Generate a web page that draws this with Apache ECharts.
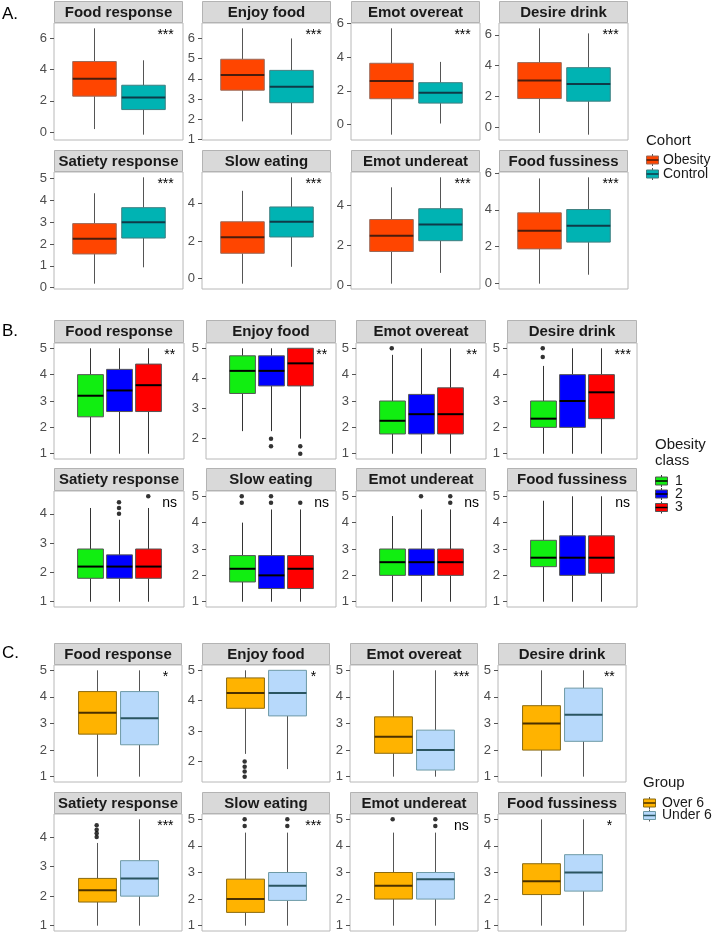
<!DOCTYPE html>
<html><head><meta charset="utf-8">
<script src="https://cdn.jsdelivr.net/npm/echarts@6/dist/echarts.min.js"></script>
<style>html,body{margin:0;padding:0;background:#fff}#c{width:713px;height:933px}</style>
</head><body><div id="c"></div>
<script>
// ---------- DATA ----------
const panelTitles = ['Food response', 'Enjoy food', 'Emot overeat', 'Desire drink',
  'Satiety response', 'Slow eating', 'Emot undereat', 'Food fussiness'];

// Section A: Cohort. Each entry [lower whisker, Q1, median, Q3, upper whisker]
const cohortNames = ['Obesity', 'Control'];
const cohortObesity = [
  [0.19, 2.3, 3.42, 4.52, 6.65], [1.9, 3.44, 4.19, 4.97, 6.5],
  [-0.6, 1.53, 2.58, 3.63, 5.7], [-0.39, 1.85, 3.03, 4.19, 6.42],
  [0.18, 1.54, 2.24, 2.93, 4.32], [-0.27, 1.35, 2.2, 3.03, 4.68],
  [0.08, 1.69, 2.48, 3.29, 4.9], [-0.03, 1.87, 2.86, 3.84, 5.72]];
const cohortControl = [
  [-0.17, 1.44, 2.21, 3.0, 4.6], [1.24, 2.82, 3.61, 4.42, 6.0],
  [0.06, 1.27, 1.89, 2.48, 3.71], [-0.5, 1.68, 2.79, 3.86, 6.09],
  [0.93, 2.27, 2.99, 3.66, 5.05], [0.63, 2.22, 3.03, 3.82, 5.4],
  [0.62, 2.23, 3.04, 3.83, 5.4], [0.46, 2.24, 3.14, 4.02, 5.78]];
const cohortObesityOut = [[], [], [], [], [], [], [], []];
const cohortControlOut = [[], [], [], [], [], [], [], []];
const cohortSig = ['***', '***', '***', '***', '***', '***', '***', '***'];
const cohortTicks = [[0, 2, 4, 6], [1, 2, 3, 4, 5, 6], [0, 2, 4, 6], [0, 2, 4, 6],
  [0, 1, 2, 3, 4, 5], [0, 2, 4], [0, 2, 4], [0, 2, 4, 6]];

// Section B: Obesity class
const classNames = ['1', '2', '3'];
const class1 = [
  [1, 2.4, 3.2, 4.0, 5], [2.25, 3.5, 4.25, 4.75, 5],
  [1, 1.75, 2.25, 3.0, 4.75], [1, 2.0, 2.33, 3.0, 4.33],
  [1, 1.8, 2.2, 2.8, 4.2], [1, 1.75, 2.25, 2.75, 4.0],
  [1, 2.0, 2.5, 3.0, 4.25], [1, 2.33, 2.67, 3.33, 4.83]];
const class2 = [
  [1, 2.6, 3.4, 4.2, 5], [2.25, 3.75, 4.25, 4.75, 5],
  [1, 1.75, 2.5, 3.25, 5], [1, 2.0, 3.0, 4.0, 5],
  [1, 1.8, 2.2, 2.6, 3.8], [1, 1.5, 2.0, 2.75, 4.5],
  [1, 2.0, 2.5, 3.0, 4.5], [1, 2.0, 2.67, 3.5, 5]];
const class3 = [
  [1, 2.6, 3.6, 4.4, 5], [2.0, 3.75, 4.5, 5.0, 5.0],
  [1, 1.75, 2.5, 3.5, 5], [1, 2.33, 3.33, 4.0, 5],
  [1, 1.8, 2.2, 2.8, 4.2], [1, 1.5, 2.25, 2.75, 4.5],
  [1, 2.0, 2.5, 3.0, 4.5], [1, 2.08, 2.67, 3.5, 5]];
const class1Out = [[], [], [5], [4.67, 5], [], [4.75, 5], [], []];
const class2Out = [[], [2.0, 1.75], [], [], [4.0, 4.2, 4.4], [4.75, 5], [5], []];
const class3Out = [[], [1.75, 1.5], [], [], [4.6], [4.75], [4.75, 5], []];
const classSig = ['**', '**', '**', '***', 'ns', 'ns', 'ns', 'ns'];
const classTicks = [[1, 2, 3, 4, 5], [2, 3, 4, 5], [1, 2, 3, 4, 5], [1, 2, 3, 4, 5],
  [1, 2, 3, 4], [1, 2, 3, 4, 5], [1, 2, 3, 4, 5], [1, 2, 3, 4, 5]];

// Section C: Group
const groupNames = ['Over 6', 'Under 6'];
const over6 = [
  [1, 2.6, 3.4, 4.2, 5], [2.25, 3.75, 4.25, 4.75, 5],
  [1, 1.88, 2.5, 3.25, 5], [1, 2.0, 3.0, 3.67, 5],
  [1, 1.8, 2.2, 2.6, 3.8], [1, 1.5, 2.0, 2.75, 4.5],
  [1, 2.0, 2.5, 3.0, 4.5], [1, 2.17, 2.67, 3.33, 5]];
const under6 = [
  [1, 2.2, 3.2, 4.2, 5], [1.75, 3.5, 4.25, 5.0, 5.0],
  [1, 1.25, 2.0, 2.75, 5], [1, 2.33, 3.33, 4.33, 5],
  [1, 2.0, 2.6, 3.2, 4.6], [1, 1.95, 2.5, 3.0, 4.5],
  [1, 2.0, 2.75, 3.0, 4.5], [1, 2.3, 3.0, 3.67, 5]];
const over6Out = [[], [2.0, 1.83, 1.67, 1.5], [], [], [4.0, 4.13, 4.25, 4.4], [4.75, 5], [5], []];
const under6Out = [[], [], [], [], [], [4.75, 5], [4.75, 5], []];
const groupSig = ['*', '*', '***', '**', '***', '***', 'ns', '*'];
const groupTicks = classTicks;

// ---------- LAYOUT / STYLE ----------
const sections = [
  {
    label: 'A.', labelY: 14, legendTitle: 'Cohort', names: cohortNames,
    groups: [cohortObesity, cohortControl], outliers: [cohortObesityOut, cohortControlOut],
    sig: cohortSig, ticks: cohortTicks,
    layout: { cols: [54, 202, 351, 499], w: 129, stripTops: [1, 150], stripH: 22, panelH: 117,
      offsets: [-0.225, 0.225], boxW: 0.405, sigX: 0.865 },
    style: { fills: ['#FF4500', '#00B3B3'], borders: ['#9a6a5a', '#3f7f80'],
      medians: ['#4a1c0c', '#0f3a48'], whisker: '#555' },
    legend: { keyX: 646, titleY: 141, itemYs: [160, 174], textX: 663, titleLH: 16 }
  },
  {
    label: 'B.', labelY: 331, legendTitle: 'Obesity\nclass', names: classNames,
    groups: [class1, class2, class3], outliers: [class1Out, class2Out, class3Out],
    sig: classSig, ticks: classTicks,
    layout: { cols: [54, 206, 356, 507], w: 130, stripTops: [320, 468], stripH: 23, panelH: 116,
      offsets: [-0.27, 0, 0.27], boxW: 0.238, sigX: 0.89 },
    style: { fills: ['#11EE11', '#0000FF', '#FF0000'], borders: ['#555', '#555', '#555'],
      medians: ['#000', '#000', '#000'], whisker: '#333' },
    legend: { keyX: 655, titleY: 453, itemYs: [481, 494, 507.5], textX: 675, titleLH: 16 }
  },
  {
    label: 'C.', labelY: 653, legendTitle: 'Group', names: groupNames,
    groups: [over6, under6], outliers: [over6Out, under6Out],
    sig: groupSig, ticks: groupTicks,
    layout: { cols: [54, 202, 350, 498], w: 128, stripTops: [643, 792], stripH: 22, panelH: 117,
      offsets: [-0.2, 0.2], boxW: 0.355, sigX: 0.87 },
    style: { fills: ['#FFB300', '#B7D9FB'], borders: ['#8a6a10', '#6e9aa6'],
      medians: ['#4a3000', '#2a5560'], whisker: '#555' },
    legend: { keyX: 643, titleY: 783, itemYs: [803, 815.5], textX: 662, titleLH: 16 }
  }
];

const FONT = '"Liberation Sans", Arial, Helvetica, sans-serif';

function makeRender(style, boxW) {
  return function (params, api) {
    const gi = params.dataIndex;
    const x = api.value(0);
    const pMin = api.coord([x, api.value(1)]);
    const pQ1 = api.coord([x, api.value(2)]);
    const pMed = api.coord([x, api.value(3)]);
    const pQ3 = api.coord([x, api.value(4)]);
    const pMax = api.coord([x, api.value(5)]);
    const w = api.size([boxW, 0])[0];
    const cx = Math.round(pMed[0]) + 0.5;
    return {
      type: 'group', children: [
        { type: 'line', shape: { x1: cx, y1: pMax[1], x2: cx, y2: pQ3[1] }, style: { stroke: style.whisker, lineWidth: 1 } },
        { type: 'line', shape: { x1: cx, y1: pQ1[1], x2: cx, y2: pMin[1] }, style: { stroke: style.whisker, lineWidth: 1 } },
        { type: 'rect', shape: { x: cx - w / 2, y: pQ3[1], width: w, height: pQ1[1] - pQ3[1] },
          style: { fill: style.fills[gi], stroke: style.borders[gi], lineWidth: 1 } },
        { type: 'line', shape: { x1: cx - w / 2, y1: pMed[1], x2: cx + w / 2, y2: pMed[1] },
          style: { stroke: style.medians[gi], lineWidth: 2 } }
      ]
    };
  };
}

const grids = [], xAxes = [], yAxes = [], series = [], graphics = [];
let k = 0;
sections.forEach(function (s) {
  const L = s.layout;
  graphics.push({ type: 'text', x: 2, y: s.labelY,
    style: { text: s.label, font: '17px ' + FONT, fill: '#000', verticalAlign: 'middle' } });
  for (let p = 0; p < 8; p++) {
    const row = Math.floor(p / 4), col = p % 4;
    const left = L.cols[col], stripTop = L.stripTops[row], top = stripTop + L.stripH;
    let lo = Infinity, hi = -Infinity;
    s.groups.forEach(function (g, gi) {
      g[p].concat(s.outliers[gi][p]).forEach(function (v) { lo = Math.min(lo, v); hi = Math.max(hi, v); });
    });
    const pad = (hi - lo) * 0.05;
    grids.push({ left: left, top: top, width: L.w, height: L.panelH, show: true,
      backgroundColor: '#fff', borderColor: '#b8b8b8', borderWidth: 1, outerBoundsMode: 'none' });
    xAxes.push({ gridIndex: k, type: 'value', min: 0.4, max: 1.6, show: false });
    yAxes.push({ gridIndex: k, type: 'value', min: lo - pad, max: hi + pad,
      axisLine: { show: false },
      axisTick: { show: true, customValues: s.ticks[p], length: 4, lineStyle: { color: '#555', width: 1 } },
      axisLabel: { customValues: s.ticks[p], color: '#4d4d4d', fontSize: 13, margin: 7, fontFamily: FONT },
      splitLine: { show: false } });
    series.push({
      type: 'custom', xAxisIndex: k, yAxisIndex: k, silent: true,
      dimensions: ['x', 'min', 'q1', 'med', 'q3', 'max'],
      encode: { x: 0, y: [1, 2, 3, 4, 5] },
      renderItem: makeRender(s.style, L.boxW),
      data: s.groups.map(function (g, gi) { return [1 + L.offsets[gi]].concat(g[p]); })
    });
    const outData = [];
    s.outliers.forEach(function (o, gi) { o[p].forEach(function (v) { outData.push([1 + L.offsets[gi], v]); }); });
    series.push({ type: 'scatter', xAxisIndex: k, yAxisIndex: k, silent: true, symbolSize: 4.5,
      itemStyle: { color: '#000' }, data: outData });
    // strip
    graphics.push({ type: 'rect', shape: { x: left + 0.5, y: stripTop + 0.5, width: L.w - 1, height: L.stripH - 1 },
      style: { fill: '#d9d9d9', stroke: '#b3b3b3', lineWidth: 1 } });
    graphics.push({ type: 'text', x: left + L.w / 2, y: stripTop + L.stripH / 2 + 0.5,
      style: { text: panelTitles[p], font: 'bold 15px ' + FONT, fill: '#1a1a1a', align: 'center', verticalAlign: 'middle' } });
    // significance
    graphics.push({ type: 'text', x: left + L.w * L.sigX, y: top + 12.5, z: 10,
      style: { text: s.sig[p], font: '14px ' + FONT, fill: '#000', align: 'center', verticalAlign: 'middle' } });
    k++;
  }
  // legend
  const G = s.legend, st = s.style;
  graphics.push({ type: 'text', x: G.keyX, y: G.titleY,
    style: { text: s.legendTitle, font: '15px ' + FONT, fill: '#1a1a1a', verticalAlign: 'middle', lineHeight: G.titleLH } });
  s.names.forEach(function (name, gi) {
    const cy = G.itemYs[gi], cx = G.keyX + 6.5;
    graphics.push({ type: 'line', shape: { x1: cx, y1: cy - 6, x2: cx, y2: cy + 6 }, style: { stroke: st.whisker, lineWidth: 1 } });
    graphics.push({ type: 'rect', shape: { x: cx - 6, y: cy - 4, width: 12, height: 8 },
      style: { fill: st.fills[gi], stroke: st.borders[gi], lineWidth: 1 } });
    graphics.push({ type: 'line', shape: { x1: cx - 6, y1: cy, x2: cx + 6, y2: cy }, style: { stroke: st.medians[gi], lineWidth: 1.5 } });
    graphics.push({ type: 'text', x: G.textX, y: cy,
      style: { text: name, font: '14px ' + FONT, fill: '#1a1a1a', verticalAlign: 'middle' } });
  });
});

const chart = echarts.init(document.getElementById('c'), null, { renderer: 'canvas' });
chart.setOption({
  animation: false,
  backgroundColor: '#fff',
  textStyle: { fontFamily: FONT },
  grid: grids, xAxis: xAxes, yAxis: yAxes, series: series,
  graphic: graphics
});
</script></body></html>
